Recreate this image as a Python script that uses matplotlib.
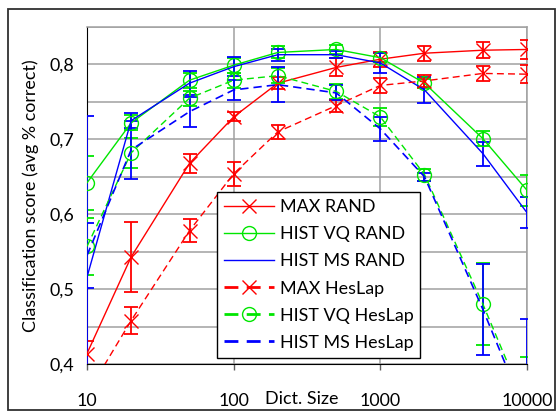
import numpy as np
import matplotlib
matplotlib.use('Agg')
import matplotlib.pyplot as plt
from matplotlib.ticker import FixedLocator, FuncFormatter
from matplotlib.patches import Rectangle

plt.rcParams['font.family'] = ['Lato', 'DejaVu Sans']

dict_sizes = [10, 20, 50, 100, 200, 500, 1000, 2000, 5000, 10000]

max_rand = [0.414, 0.543, 0.668, 0.730, 0.775, 0.796, 0.807, 0.815, 0.819, 0.820]
max_rand_err = [0.017, 0.047, 0.013, 0.006, 0.008, 0.012, 0.010, 0.010, 0.011, 0.013]

vq_rand = [0.642, 0.722, 0.779, 0.799, 0.816, 0.820, 0.809, 0.775, 0.701, 0.632]
vq_rand_err = [0.036, 0.010, 0.010, 0.010, 0.008, 0.006, 0.006, 0.006, 0.010, 0.021]

ms_rand = [0.516, 0.725, 0.775, 0.797, 0.813, 0.813, 0.802, 0.766, 0.681, 0.602]
ms_rand_err = [0.215, 0.010, 0.016, 0.013, 0.008, 0.005, 0.013, 0.017, 0.016, 0.021]

max_hes = [0.360, 0.458, 0.578, 0.654, 0.710, 0.745, 0.772, 0.778, 0.788, 0.787]
max_hes_err = [0.020, 0.018, 0.015, 0.016, 0.009, 0.008, 0.010, 0.008, 0.010, 0.012]

vq_hes = [0.557, 0.682, 0.755, 0.779, 0.785, 0.764, 0.730, 0.653, 0.480, 0.340]
vq_hes_err = [0.038, 0.020, 0.010, 0.010, 0.010, 0.010, 0.012, 0.008, 0.055, 0.070]

ms_hes = [0.545, 0.686, 0.737, 0.766, 0.773, 0.762, 0.714, 0.650, 0.473, 0.330]
ms_hes_err = [0.043, 0.039, 0.020, 0.013, 0.023, 0.010, 0.016, 0.005, 0.061, 0.130]

labels = ['MAX RAND', 'HIST VQ RAND', 'HIST MS RAND',
          'MAX HesLap', 'HIST VQ HesLap', 'HIST MS HesLap']

RED = '#ff0000'
GREEN = '#00e600'
BLUE = '#0000ff'
GRID = '#a0a0a0'
FS = 12.9

fig = plt.figure(figsize=(5.56, 4.11), dpi=100)
ax = fig.add_axes([87/556, 1-364/411, 440/556, 337/411])

series = [
    (max_rand, max_rand_err, RED, '-', 'x', 1.0),
    (vq_rand, vq_rand_err, GREEN, '-', 'o', 1.0),
    (ms_rand, ms_rand_err, BLUE, '-', None, 1.0),
    (max_hes, max_hes_err, RED, '--', 'x', 1.0),
    (vq_hes, vq_hes_err, GREEN, '--', 'o', 1.0),
    (ms_hes, ms_hes_err, BLUE, '--', None, 1.2),
]

handles = []
for (vals, err, col, ls, mk, lw), lab in zip(series, labels):
    ax.errorbar(dict_sizes, vals, yerr=err, fmt='none', ecolor=col,
                elinewidth=1.3, capsize=5, capthick=1.3, zorder=3)
    line, = ax.plot(dict_sizes, vals, color=col, linestyle=ls, linewidth=lw,
                    marker=mk, markersize=10, markerfacecolor='none',
                    markeredgecolor=col, markeredgewidth=1.0, zorder=4,
                    dashes=(5, 3) if ls == '--' else (None, None), label=lab)
    handles.append(line)

ax.set_xscale('log')
ax.set_xlim(10, 10000)
ax.set_ylim(0.4, 0.85)

ax.xaxis.set_major_locator(FixedLocator([10, 100, 1000, 10000]))
ax.xaxis.set_minor_locator(FixedLocator([]))
ax.xaxis.set_major_formatter(FuncFormatter(lambda v, p: '%d' % v))
ax.yaxis.set_major_locator(FixedLocator([0.4, 0.5, 0.6, 0.7, 0.8]))
ax.yaxis.set_minor_locator(FixedLocator([0.45, 0.55, 0.65, 0.75, 0.85]))
ax.yaxis.set_major_formatter(FuncFormatter(lambda v, p: ('%.1f' % v).replace('.', ',')))

ax.grid(True, which='both', axis='y', color=GRID, linewidth=1.1)
ax.grid(True, which='major', axis='x', color=GRID, linewidth=1.1)
ax.set_axisbelow(True)

ax.tick_params(axis='y', which='both', length=0, pad=9, labelsize=FS)
ax.tick_params(axis='x', which='major', length=4, width=1, color='#606060',
               pad=17, labelsize=FS)

ax.spines['top'].set_color(GRID)
ax.spines['right'].set_color(GRID)
ax.spines['top'].set_linewidth(1.1)
ax.spines['right'].set_linewidth(1.1)
ax.spines['left'].set_color('black')
ax.spines['bottom'].set_color('black')

ax.set_ylabel('Classification score (avg % correct)', fontsize=FS, labelpad=8)

fig.text(302/556, 1-399/411, 'Dict. Size', ha='center', va='center', fontsize=FS)

leg = ax.legend(handles=handles, loc='lower left', bbox_to_anchor=(0.295, 0.018),
                fontsize=FS, numpoints=1, handlelength=2.8, handletextpad=0.3,
                labelspacing=0.62, borderpad=0.4, fancybox=False, framealpha=1,
                edgecolor='black', borderaxespad=0)
leg.get_frame().set_linewidth(1.0)
for h in leg.get_lines():
    if h.get_linestyle() == '--':
        h.set_linewidth(2.0)

fig.patches.append(Rectangle((8/556, 1/411), 547/556, 401/411, transform=fig.transFigure,
                             fill=False, edgecolor='#303030', linewidth=1.3))

fig.savefig('out.png', dpi=100)
